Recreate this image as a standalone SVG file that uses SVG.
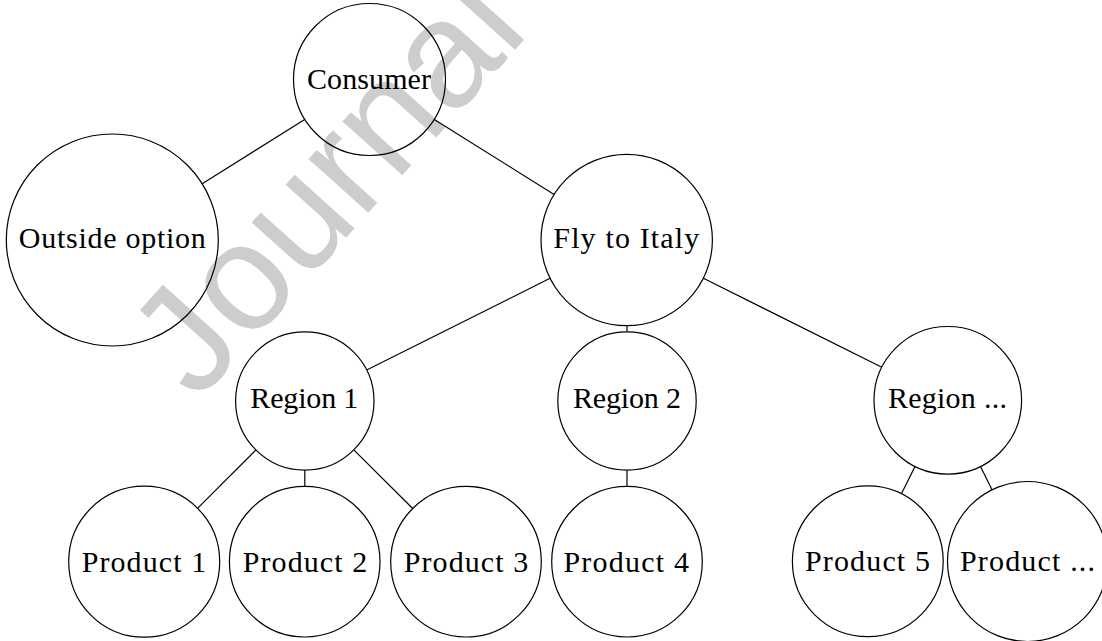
<svg xmlns="http://www.w3.org/2000/svg" width="1102" height="641" viewBox="0 0 1102 641">
<style>
.n{fill:none;stroke:#000;stroke-width:1.2}
.t{font-family:"Liberation Serif","Times New Roman",serif;font-size:30px;fill:#000;text-anchor:middle}
.e{stroke:#000;stroke-width:1.2;fill:none}
.wm{font-family:"Liberation Sans",Arial,sans-serif;font-size:152px;fill:#cdcdcd}
</style>
<rect width="1102" height="641" fill="#fff"/>
<text class="wm" transform="translate(197.3,402.7) rotate(-48)">Journal Pre-proof</text>
<g id="connectors">
<line class="e" x1="305.1" y1="119.3" x2="202.2" y2="183.7"/>
<line class="e" x1="433.9" y1="119.3" x2="554.1" y2="194.5"/>
<line class="e" x1="550.1" y1="278.3" x2="366.7" y2="370"/>
<line class="e" x1="627" y1="325.7" x2="627" y2="331.8"/>
<line class="e" x1="703.4" y1="278.3" x2="881.8" y2="367.3"/>
<line class="e" x1="255.9" y1="449.9" x2="197.5" y2="508.3"/>
<line class="e" x1="304.8" y1="470.2" x2="304.8" y2="486.4"/>
<line class="e" x1="353.8" y1="449.8" x2="412.7" y2="508.5"/>
<line class="e" x1="627" y1="470.2" x2="627" y2="486.4"/>
<line class="e" x1="915" y1="466.4" x2="901.4" y2="493.8"/>
<line class="e" x1="980.5" y1="466.5" x2="992" y2="489.8"/>
</g>
<g id="consumer"><circle class="n" cx="369.5" cy="79.5" r="76"/><text class="t" x="369" y="89" textLength="124" lengthAdjust="spacing">Consumer</text></g>
<g id="outside"><circle class="n" cx="112.3" cy="240" r="106"/><text class="t" x="112.3" y="248.3" textLength="187" lengthAdjust="spacing">Outside option</text></g>
<g id="fly"><circle class="n" cx="626.7" cy="240" r="85.7"/><text class="t" x="626.3" y="248.3" textLength="146" lengthAdjust="spacing">Fly to Italy</text></g>
<g id="region1"><circle class="n" cx="304.8" cy="401" r="69.2"/><text class="t" x="304.3" y="408.4" textLength="108" lengthAdjust="spacing">Region 1</text></g>
<g id="region2"><circle class="n" cx="627" cy="401" r="69.2"/><text class="t" x="627" y="408.4" textLength="108" lengthAdjust="spacing">Region 2</text></g>
<g id="region3"><circle class="n" cx="947.8" cy="400.3" r="73.8"/><text class="t" x="947.4" y="408" textLength="119" lengthAdjust="spacing">Region ...</text></g>
<g id="product1"><circle class="n" cx="144.2" cy="561.7" r="75.5"/><text class="t" x="143.9" y="571.6" textLength="124.5" lengthAdjust="spacing">Product 1</text></g>
<g id="product2"><circle class="n" cx="304.7" cy="561.7" r="75.3"/><text class="t" x="305" y="571.6" textLength="124.5" lengthAdjust="spacing">Product 2</text></g>
<g id="product3"><circle class="n" cx="466" cy="561.7" r="75.3"/><text class="t" x="466" y="571.6" textLength="124.5" lengthAdjust="spacing">Product 3</text></g>
<g id="product4"><circle class="n" cx="627" cy="561.7" r="75.3"/><text class="t" x="626.2" y="571.6" textLength="125.5" lengthAdjust="spacing">Product 4</text></g>
<g id="product5"><circle class="n" cx="867.8" cy="561.3" r="75.4"/><text class="t" x="867.5" y="571.4" textLength="125" lengthAdjust="spacing">Product 5</text></g>
<g id="product6"><circle class="n" cx="1027.5" cy="561.5" r="80"/><text class="t" x="1027.5" y="571.4" textLength="135" lengthAdjust="spacing">Product ...</text></g>
</svg>
